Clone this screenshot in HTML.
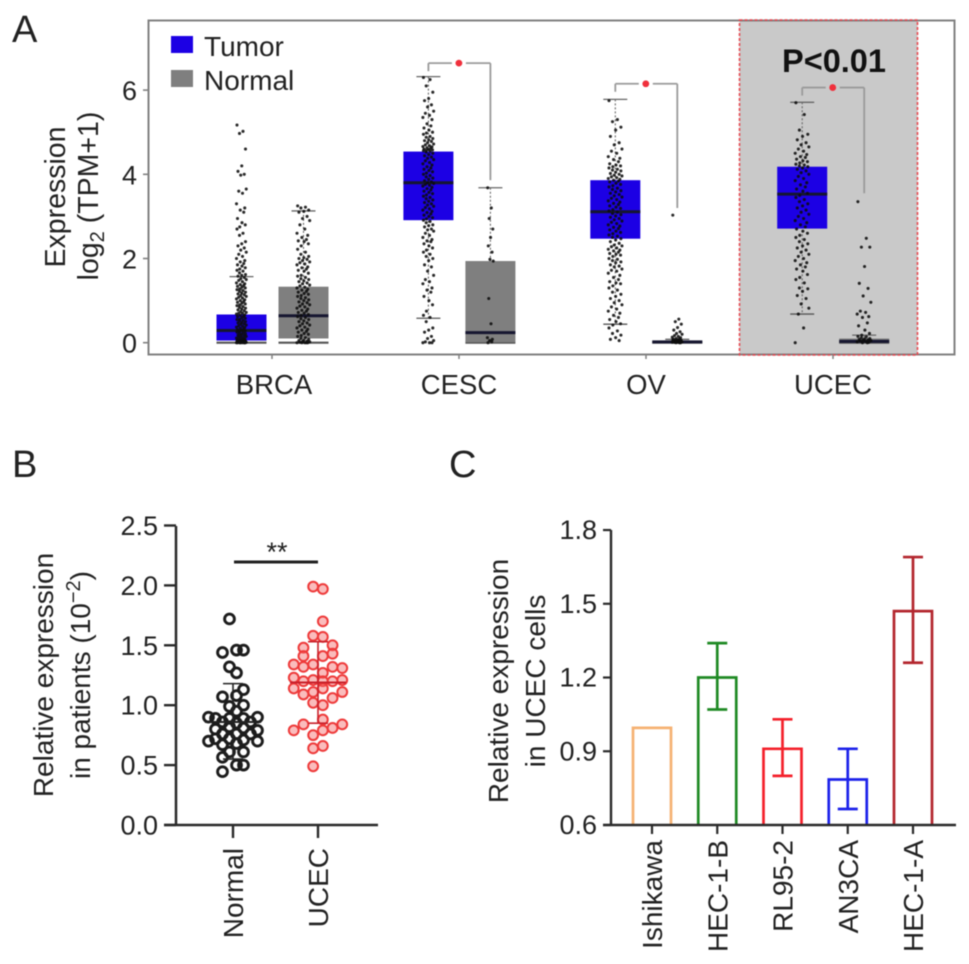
<!DOCTYPE html>
<html lang="en">
<head>
<meta charset="utf-8">
<title>Expression in UCEC</title>
<style>
html,body{margin:0;padding:0;background:#fff;}
svg{display:block;filter:blur(.45px);}
text{font-family:"Liberation Sans",Arial,sans-serif;fill:#222;}
</style>
</head>
<body>
<svg id="fig" xmlns="http://www.w3.org/2000/svg" width="969" height="964" viewBox="0 0 969 964">
  <rect width="969" height="964" fill="#fff"/>
  <text x="12" y="42" font-size="38">A</text>
  <text x="12" y="477" font-size="38">B</text>
  <text x="449" y="477" font-size="38">C</text>

  <g id="panelA">
    <rect x="739.5" y="20" width="178" height="335" fill="#c9c9c9"/>
    <rect x="148.5" y="20.5" width="806" height="334" fill="none" stroke="#808080" stroke-width="2"/>
    <rect x="739.5" y="20" width="178" height="335" fill="none" stroke="#e8474f" stroke-width="1.6" stroke-dasharray="3 2"/>
    <g id="aMarks"></g>
    <text x="834" y="72" font-size="32.5" font-weight="bold" text-anchor="middle" style="fill:#111">P&lt;0.01</text>
    <rect x="171" y="36" width="22" height="17" fill="#1c00e4"/>
    <text x="204" y="56" font-size="28">Tumor</text>
    <rect x="171" y="70" width="22" height="17" fill="#7f7f7f"/>
    <text x="204" y="90" font-size="28">Normal</text>
    <text transform="translate(65,197) rotate(-90)" font-size="28.5" text-anchor="middle">Expression</text>
    <text transform="translate(98,196) rotate(-90)" font-size="28.5" text-anchor="middle">log<tspan font-size="20" dy="6">2</tspan><tspan dy="-6"> (TPM+1)</tspan></text>
  </g>

  <g id="panelB">
    <text transform="translate(53,675) rotate(-90)" font-size="28" text-anchor="middle">Relative expression</text>
    <text transform="translate(90,675) rotate(-90)" font-size="28" text-anchor="middle">in patients (10<tspan font-size="20" dy="-10">−2</tspan><tspan dy="10">)</tspan></text>
    <g id="bMarks"></g>
    <line x1="234" y1="562" x2="318" y2="562" stroke="#222" stroke-width="3"/>
    <text x="277" y="561" font-size="27" text-anchor="middle" style="fill:#222">**</text>
  </g>

  <g id="panelC">
    <text transform="translate(508,681) rotate(-90)" font-size="28" text-anchor="middle">Relative expression</text>
    <text transform="translate(545,681) rotate(-90)" font-size="28" text-anchor="middle">in UCEC cells</text>
    <g id="cMarks"></g>
  </g>
</svg>

<script>
// ---------- Panel A data ----------
const aCategories = ['BRCA','CESC','OV','UCEC'];
const aTicks = [0,2,4,6];
const aJitter = [-.9,.3,-.4,.8,.05,-.7,.55,-.15,.95,-.55,.2,-1,.65,-.25,.45,-.8,.1,.75,-.35];
// lowCap, q1, median, q3, highCap
const boxBrcaTumor = [0,.05,.29,.67,1.57];
const boxBrcaNormal = [0,.1,.64,1.33,3.13];
const boxCescTumor = [.58,2.91,3.8,4.54,6.32];
const boxCescNormal = [0,.01,.24,1.94,3.68];
const boxOvTumor = [.44,2.47,3.11,3.86,5.78];
const boxOvNormal = [0,0,.02,.05,.08];
const boxUcecTumor = [.68,2.71,3.53,4.18,5.71];
const boxUcecNormal = [0,0,.03,.1,.18];
const ptsBrcaTumor = [5.17,5.02,4.97,4.6,4.2,4.07,4,3.98,3.65,3.6,3.55,3.3,3.2,3.15,3.1,2.95,2.85,2.8,2.75,2.7,2.6,2.55,2.4,2.35,2.3,2.25,2.2,2.15,2.1,2.05,2,1.95,1.92,1.88,1.85,1.82,1.78,1.75,1.72,1.7,1.66,1.62,1.6,1.58,1.55,1.52,1.5,1.48,1.45,1.42,1.4,1.38,1.36,1.34,1.32,1.3,1.28,1.26,1.24,1.22,1.2,1.18,1.16,1.14,1.12,1.1,1.08,1.06,1.04,1.02,1,.98,.96,.94,.92,.9,.88,.86,.84,.82,.8,.78,.76,.74,.72,.7,.7,.68,.66,.65,.63,.62,.6,.58,.56,.55,.53,.52,.5,.48,.47,.45,.44,.42,.4,.39,.37,.36,.34,.32,.31,.3,.28,.27,.25,.24,.22,.21,.2,.18,.17,.16,.15,.13,.12,.11,.1,.09,.08,.07,.06,.05,.05,.04,.04,.03,.03,.02,.02,.02,.01,.01,.01,.01,0,0,0,0,0,0,0,0];
const ptsBrcaNormal = [3.25,3.22,3.2,3.15,3.12,3.1,3,2.95,2.9,2.8,2.7,2.6,2.55,2.5,2.45,2.42,2.4,2.35,2.3,2.22,2.15,2.1,2.05,2.02,2,1.98,1.95,1.92,1.9,1.87,1.85,1.8,1.78,1.75,1.72,1.7,1.65,1.6,1.58,1.55,1.52,1.5,1.47,1.45,1.42,1.4,1.37,1.35,1.32,1.3,1.27,1.25,1.22,1.2,1.17,1.15,1.12,1.1,1.07,1.05,1.02,1,.97,.95,.92,.9,.87,.85,.82,.8,.77,.75,.72,.7,.67,.65,.62,.6,.57,.55,.52,.5,.47,.45,.42,.4,.37,.35,.32,.3,.27,.25,.22,.2,.17,.15,.12,.1,.08,.06,.05,.04,.03,.02,.01,0,0,0,0,0];
const ptsCescTumor = [6.3,6.25,6.1,5.95,5.8,5.75,5.65,5.6,5.5,5.45,5.4,5.35,5.3,5.2,5.15,5.1,5.05,5,4.98,4.95,4.9,4.88,4.85,4.82,4.8,4.78,4.75,4.72,4.7,4.68,4.66,4.65,4.63,4.62,4.6,4.59,4.58,4.57,4.56,4.55,4.53,4.5,4.47,4.44,4.41,4.38,4.35,4.32,4.28,4.25,4.22,4.18,4.15,4.12,4.09,4.06,4.03,4,3.97,3.94,3.91,3.88,3.85,3.82,3.8,3.78,3.76,3.74,3.72,3.69,3.66,3.63,3.6,3.57,3.54,3.51,3.48,3.45,3.42,3.39,3.36,3.33,3.3,3.27,3.24,3.21,3.18,3.15,3.12,3.09,3.06,3.03,3,2.97,2.94,2.91,2.88,2.85,2.8,2.78,2.75,2.7,2.68,2.65,2.6,2.55,2.5,2.45,2.42,2.4,2.35,2.3,2.25,2.2,2.15,2.1,2.05,2,1.95,1.85,1.8,1.7,1.6,1.5,1.45,1.4,1.3,1.25,1.2,1.1,1,.9,.75,.65,.6,.5,.35,.3,.25,.15,.1,.05,.02,0,0,0];
const ptsCescNormal = [3.68,3.2,2.95,2.7,2.5,2.3,2.15,1.98,1.94,1.05,.45,.12,.08,.05,.02,0];
const ptsOvTumor = [5.75,5.3,5.25,5.12,5.05,4.9,4.75,4.7,4.6,4.55,4.5,4.42,4.38,4.35,4.3,4.25,4.22,4.2,4.18,4.15,4.12,4.1,4.08,4.05,4.02,4,3.98,3.96,3.94,3.92,3.9,3.88,3.86,3.84,3.82,3.79,3.76,3.73,3.7,3.67,3.64,3.61,3.58,3.55,3.52,3.49,3.46,3.43,3.4,3.37,3.34,3.31,3.28,3.25,3.22,3.19,3.16,3.13,3.1,3.07,3.04,3.01,2.98,2.95,2.92,2.89,2.86,2.83,2.8,2.77,2.74,2.71,2.68,2.65,2.62,2.59,2.56,2.53,2.5,2.47,2.44,2.4,2.36,2.32,2.3,2.28,2.25,2.22,2.2,2.18,2.15,2.12,2.1,2.08,2.05,2,1.98,1.95,1.92,1.9,1.85,1.82,1.8,1.75,1.72,1.7,1.65,1.6,1.55,1.5,1.45,1.42,1.4,1.35,1.3,1.25,1.2,1.15,1.1,1.05,1,.95,.9,.85,.8,.75,.7,.65,.6,.55,.5,.45,.42,.35,.28,.22,.18,.12,.08,.05];
const ptsOvNormal = [3.03,.56,.5,.44,.36,.3,.26,.22,.2,.17,.15,.13,.12,.1,.09,.08,.07,.06,.05,.05,.04,.04,.03,.03,.03,.02,.02,.02,.01,.01,.01,0,0,0];
const ptsUcecTumor = [5.7,5.42,5.05,4.95,4.9,4.82,4.75,4.7,4.65,4.6,4.55,4.5,4.47,4.42,4.4,4.36,4.32,4.3,4.27,4.24,4.22,4.2,4.18,4.15,4.12,4.08,4.04,4,3.95,3.9,3.85,3.8,3.75,3.7,3.65,3.6,3.55,3.5,3.45,3.4,3.35,3.3,3.25,3.2,3.15,3.1,3.05,3,2.95,2.9,2.85,2.8,2.75,2.7,2.65,2.6,2.55,2.5,2.45,2.4,2.35,2.3,2.25,2.2,2.15,2.1,2.05,2,1.95,1.9,1.85,1.8,1.75,1.7,1.62,1.55,1.5,1.42,1.3,1.28,1.22,1.12,1.05,.92,.82,.68,.35,0];
const ptsUcecNormal = [3.35,2.48,2.27,2.27,1.81,1.41,1.29,1.11,.96,.75,.72,.68,.62,.6,.47,.4,.3,.22,.18,.15,.14,.12,.1,.09,.08,.07,.06,.05,.04,.03,.02,.01,0,0];
// bracket top and right-leg foot (axis units), for CESC, OV, UCEC
const bracketTops = [6.64,6.15,6.06];
const bracketFoots = [3.86,3.2,3.55];

// ---------- Panel B data ----------
const bCategories = ['Normal','UCEC'];
const bTicks = ['0.0','0.5','1.0','1.5','2.0','2.5'];
const normalValues = [1.72,1.44,1.46,1.46,1.32,1.27,1.07,1.08,1.13,.99,1,.95,.9,.89,.86,.89,.85,.89,.86,.9,.8,.82,.81,.79,.76,.76,.76,.7,.72,.72,.71,.7,.67,.68,.61,.61,.565,.5,.5,.445];
const normalSwarm = [-.5,-1.5,.5,1.5,-.5,.5,-1.5,.5,1.5,-.5,1.5,.5,-3.5,-2.5,-1.5,-.5,.5,1.5,2.5,3.5,-2.5,-.5,1.5,3.5,-1.5,.5,2.5,-3.5,-2.5,-.5,1.5,3.5,-1.5,.5,-.5,1.5,-1.5,.5,1.5,-1.5];
const ucecValues = [1.99,1.97,1.7,1.58,1.57,1.48,1.5,1.41,1.41,1.43,1.34,1.32,1.34,1.32,1.31,1.27,1.23,1.2,1.21,1.2,1.21,1.2,1.14,1.11,1.14,1.11,1.09,1.06,1.02,1,.88,.84,.84,.79,.79,.81,.75,.64,.66,.49];
const ucecSwarm = [-.5,.5,.5,-.5,.5,-1.5,1.5,-1.5,.5,1.5,-2.5,-1.5,-.5,1.5,2.5,.5,-2.5,-1.5,-.5,1.5,2.5,.5,-2.5,-.5,.5,2.5,-1.5,1.5,-.5,.5,.5,-1.5,2.5,-2.5,.5,1.5,-.5,-.5,.5,-.5];
// low, mean, high
const normalSummary = [.55,.86,1.18];
const ucecSummary = [.85,1.19,1.53];

// ---------- Panel C data ----------
const cCategories = ['Ishikawa','HEC-1-B','RL95-2','AN3CA','HEC-1-A'];
const cTicks = ['0.6','0.9','1.2','1.5','1.8'];
const cValues = [.995,1.2,.91,.785,1.47];
const cErrLow = [null,1.07,.8,.665,1.26];
const cErrHigh = [null,1.34,1.03,.91,1.69];
const cColors = ['#f6b273','#1f8a24','#f4212b','#1c22ea','#b3262e'];

// ---------- helpers ----------
const NS = 'http://www.w3.org/2000/svg';
function make(tag, attrs, parent){
  const el = document.createElementNS(NS, tag);
  for (const k in attrs) el.setAttribute(k, attrs[k]);
  parent.appendChild(el);
  return el;
}
function line(parent, x1, y1, x2, y2, stroke, width, name, dash){
  const el = make('line', {x1, y1, x2, y2, stroke, 'stroke-width': width}, parent);
  if (dash) el.setAttribute('stroke-dasharray', dash);
  
  
  return el;
}
function label(parent, x, y, str, size, anchor, name, rotate){
  const el = make('text', {'font-size': size, 'text-anchor': anchor}, parent);
  if (rotate) el.setAttribute('transform', 'translate(' + x + ',' + y + ') rotate(-90)');
  else { el.setAttribute('x', x); el.setAttribute('y', y); }
  el.textContent = str;
  
  
  return el;
}

// ---------- Panel A ----------
const aG = document.getElementById('aMarks');
const aY = v => 342.7 - v * 42.1;
const aXTumor = i => 241.5 + i * 186.9;
const aXNormal = i => 303.5 + i * 186.9;
const aTickX = i => 272 + i * 187;

aTicks.forEach(t => {
  line(aG, 143, aY(t), 148, aY(t), '#808080', 1.6, 'y-tick-a');
  label(aG, 137, aY(t) + 10, String(t), 27, 'end', 'y-tick-label-a');
});
aCategories.forEach((c, i) => {
  line(aG, aTickX(i), 355, aTickX(i), 359, '#808080', 1.5, 'x-tick-a');
  label(aG, aTickX(i) + (i === 0 ? 2 : 0), 394, c, 27.5, 'middle', 'x-tick-label-' + c.toLowerCase());
});

function drawBox(cx, box, pts, fill, spread, name, hw){
  const [lo, q1, med, q3, hi] = box;
  line(aG, cx, aY(hi), cx, aY(lo), '#666', 1.1, name + '-whisker', '2 2');
  line(aG, cx - 12, aY(hi), cx + 12, aY(hi), '#666', 1.3, name + '-cap-high');
  line(aG, cx - hw, aY(lo), cx + hw, aY(lo), '#555', lo === 0 ? 2.2 : 1.3, name + '-cap-low');
  const r = make('rect', {x: cx - 25, y: aY(q3), width: 50, height: Math.max(aY(q1) - aY(q3), 2), fill}, aG);
  
  
  line(aG, cx - 25, aY(med), cx + 25, aY(med), '#161630', 3, name + '-median');
  pts.forEach((v, i) => {
    const d = make('circle', {cx: cx + aJitter[i % aJitter.length] * spread, cy: aY(v), r: 1.55, fill: '#0c0c0c', 'fill-opacity': .88}, aG);
    
    
  });
}
const tumorBoxes = [boxBrcaTumor, boxCescTumor, boxOvTumor, boxUcecTumor];
const normalBoxes = [boxBrcaNormal, boxCescNormal, boxOvNormal, boxUcecNormal];
const tumorPts = [ptsBrcaTumor, ptsCescTumor, ptsOvTumor, ptsUcecTumor];
const normalPts = [ptsBrcaNormal, ptsCescNormal, ptsOvNormal, ptsUcecNormal];
const tumorSpread = [5, 5.5, 7, 7];
const normalSpread = [6.5, 3, 5, 7];
aCategories.forEach((c, i) => {
  const n = c.toLowerCase();
  drawBox(aXTumor(i), tumorBoxes[i], tumorPts[i], '#1c00e4', tumorSpread[i], n + '-tumor', i === 0 ? 25 : 12);
  drawBox(aXNormal(i), normalBoxes[i], normalPts[i], '#7f7f7f', normalSpread[i], n + '-normal', 25);
});

[1, 2, 3].forEach((g, k) => {
  const xl = aXTumor(g), xr = aXNormal(g), yt = aY(bracketTops[k]);
  const mid = (xl + xr) / 2 - .5;
  line(aG, xl, yt, xl, yt + 8, '#9a9a9a', 1.8, 'bracket-left');
  line(aG, xl, yt, mid - 7, yt, '#9a9a9a', 1.8, 'bracket-top-left');
  line(aG, mid + 7, yt, xr, yt, '#9a9a9a', 1.8, 'bracket-top-right');
  line(aG, xr, yt, xr, aY(bracketFoots[k]), '#9a9a9a', 1.8, 'bracket-right');
  const s = make('circle', {cx: mid, cy: yt, r: 3.4, fill: '#f0303c'}, aG);
  
  
});

// ---------- Panel B ----------
const bG = document.getElementById('bMarks');
const bY = v => 825 - v * 119.8;
const bX = [233, 318];
line(bG, 176, 526, 176, 826, '#2a2a2a', 2.5, 'y-axis-b');
line(bG, 164, 825, 378, 825, '#2a2a2a', 2.5, 'x-axis-b');
bTicks.forEach(t => {
  line(bG, 164, bY(+t), 176, bY(+t), '#2a2a2a', 2.4, 'y-tick-b');
  label(bG, 158, bY(+t) + 9.5, t, 27, 'end', 'y-tick-label-b');
});
bCategories.forEach((c, i) => {
  line(bG, bX[i], 825, bX[i], 838, '#2a2a2a', 2.4, 'x-tick-b');
  label(bG, bX[i] + 10, 848, c, 28, 'end', 'x-tick-label-' + c.toLowerCase(), true);
});
normalValues.forEach((v, i) => {
  const c = make('circle', {cx: bX[0] + normalSwarm[i] * 7, cy: bY(v), r: 4.9, fill: 'none', stroke: '#1c1c1c', 'stroke-width': 2.9}, bG);
  
  
});
ucecValues.forEach((v, i) => {
  const c = make('circle', {cx: bX[1] + ucecSwarm[i] * 9.7, cy: bY(v), r: 4.9, fill: '#f56a6a', 'fill-opacity': .45, stroke: '#ee3a3a', 'stroke-width': 2}, bG);
  
  
});
function summary(cx, s, color, name){
  const [lo, m, hi] = s;
  line(bG, cx, bY(hi), cx, bY(lo), color, 1.6, name + '-error-bar');
  line(bG, cx - 28, bY(m), cx + 28, bY(m), color, 2, name + '-mean');
  line(bG, cx - 10, bY(hi), cx + 10, bY(hi), color, 1.6, name + '-cap-high');
  line(bG, cx - 10, bY(lo), cx + 10, bY(lo), color, 1.6, name + '-cap-low');
}
summary(bX[0], normalSummary, '#222', 'normal');
summary(bX[1], ucecSummary, '#c8202a', 'ucec');

// ---------- Panel C ----------
const cG = document.getElementById('cMarks');
const cY = v => 825 - (v - .6) * 245.8;
const cX = i => 652 + i * 65.25;
cCategories.forEach((c, i) => {
  const col = cColors[i];
  const x0 = cX(i) - 19, x1 = cX(i) + 19, top = cY(cValues[i]);
  const b = make('path', {d: 'M' + x0 + ' 825V' + top + 'H' + x1 + 'V825', fill: 'none', stroke: col, 'stroke-width': 2.7}, cG);
  
  
  if (cErrHigh[i] !== null) {
    line(cG, cX(i), cY(cErrHigh[i]), cX(i), cY(cErrLow[i]), col, 2.7, 'error-bar-' + c.toLowerCase());
    line(cG, cX(i) - 10, cY(cErrHigh[i]), cX(i) + 10, cY(cErrHigh[i]), col, 2.7, 'error-cap-high');
    line(cG, cX(i) - 10, cY(cErrLow[i]), cX(i) + 10, cY(cErrLow[i]), col, 2.7, 'error-cap-low');
  }
  line(cG, cX(i), 825, cX(i), 834, '#2a2a2a', 2.2, 'x-tick-c');
  label(cG, cX(i) + 10, 840, c, 28, 'end', 'x-tick-label-' + c.toLowerCase(), true);
});
line(cG, 611, 530, 611, 826, '#2a2a2a', 2.4, 'y-axis-c');
line(cG, 603, 825, 956, 825, '#2a2a2a', 2.6, 'x-axis-c');
cTicks.forEach(t => {
  line(cG, 603, cY(+t), 611, cY(+t), '#2a2a2a', 2.2, 'y-tick-c');
  label(cG, 597, cY(+t) + 9, t, 27, 'end', 'y-tick-label-c');
});
</script>
</body>
</html>
